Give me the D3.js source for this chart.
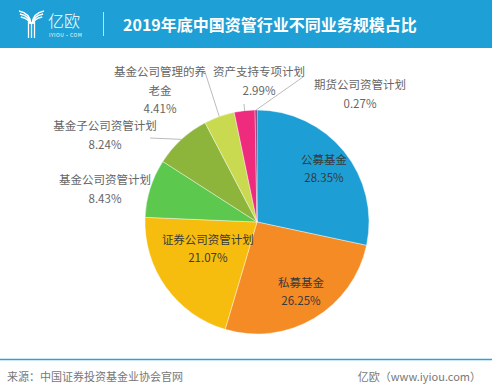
<!DOCTYPE html>
<html>
<head>
<meta charset="utf-8">
<script src="https://cdn.jsdelivr.net/npm/d3@7"></script>
<style>
  body { margin: 0; background: #fff; }
  svg text { font-family: "Noto Sans CJK SC", "Noto Sans", sans-serif; }
</style>
</head>
<body>
<svg id="chart"></svg>
<script>
// data
const categories = ['公募基金', '私募基金', '证券公司资管计划', '基金公司资管计划',
  '基金子公司资管计划', '基金公司管理的养老金', '资产支持专项计划', '期货公司资管计划'];
const shares = [28.35, 26.25, 21.07, 8.43, 8.24, 4.41, 2.99, 0.27];
const colors = ['#1d9fd6', '#f58b24', '#f6bd0f', '#5cc84d', '#8db53b', '#c9da50', '#ee2b7c', '#6e2a6c'];
const titleText = '2019年底中国资管行业不同业务规模占比';
const sourceText = '来源：中国证券投资基金业协会官网';
const creditText = '亿欧（www.iyiou.com）';

const width = 500, height = 392;
const cx = 257, cy = 222, radius = 112;

const svg = d3.select('#chart').attr('width', width).attr('height', height);

// header bar
svg.append('rect').attr('x', 0).attr('y', 0).attr('width', 492).attr('height', 48).attr('fill', '#1e9fd5');

// logo mark (stylised Y)
const logo = svg.append('g').attr('fill', 'none').attr('stroke', '#fff').attr('stroke-width', 1.3);
[0, 3, 6].forEach(o => {
  logo.append('path').attr('d', `M${19 + o * 0.3},${11 + o} Q${30},${13 + o} ${31 - o * 0.3},${24}`);
  logo.append('path').attr('d', `M${44 - o * 0.3},${11 + o} Q${33},${13 + o} ${32 + o * 0.3},${24}`);
});
[-3, 0, 3].forEach(o => {
  logo.append('line').attr('x1', 31.5 + o).attr('x2', 31.5 + o).attr('y1', 22).attr('y2', 38);
});
svg.append('text').attr('x', 48).attr('y', 27).attr('fill', '#fff')
  .style('font-size', '16px').style('font-weight', 300).text('亿欧');
svg.append('text').attr('x', 49).attr('y', 37).attr('fill', '#fff')
  .style('font-size', '5px').style('letter-spacing', '0.5px').text('IYIOU·COM');
svg.append('line').attr('x1', 103.5).attr('x2', 103.5).attr('y1', 12).attr('y2', 36)
  .attr('stroke', '#fff').attr('stroke-opacity', 0.7);

svg.append('text').attr('x', 123).attr('y', 31).attr('fill', '#fff')
  .style('font-size', '16px').style('font-weight', 700).text(titleText);

// pie
const pie = d3.pie().sort(null).value(d => d)
  .startAngle(0).endAngle(2 * Math.PI);
const arcs = pie(shares);
const arc = d3.arc().innerRadius(0).outerRadius(radius);

const g = svg.append('g').attr('transform', `translate(${cx},${cy})`);
g.selectAll('path.slice')
  .data(arcs)
  .join('path')
  .attr('class', 'slice')
  .attr('d', arc)
  .attr('fill', (d, i) => colors[i])
  .attr('stroke', '#fff')
  .attr('stroke-width', 0.4);

const fmt = v => v.toFixed(2) + '%';
const midA = d => (d.startAngle + d.endAngle) / 2;
const pt = (a, r) => [r * Math.sin(a), -r * Math.cos(a)];

// inside labels (first three slices): radial factor and nudge
const inside = [
  {r: 0.7, dx: 6, dy: -4},
  {r: 0.7, dx: 4, dy: 3},
  {r: 0.55, dx: 1, dy: -9}
];
inside.forEach((o, i) => {
  const [x, y] = pt(midA(arcs[i]), radius * o.r);
  const t = g.append('text').attr('text-anchor', 'middle').attr('fill', '#3a3a3a')
    .style('font-size', '11.5px');
  t.append('tspan').attr('x', x + o.dx).attr('y', y + o.dy - 5).text(categories[i]);
  t.append('tspan').attr('x', x + o.dx).attr('y', y + o.dy + 13).text(fmt(shares[i]));
});

// outside labels: leader end relative to centre and text block centre
const outside = [
  {i: 3, end: null, tx: -152, ty: -42, lines: ['基金公司资管计划']},
  {i: 4, end: [-107, -84], tx: -152, ty: -96, lines: ['基金子公司资管计划']},
  {i: 5, end: [-52, -150], tx: -97, ty: -150, lines: ['基金公司管理的养', '老金']},
  {i: 6, end: [-13, -118], tx: 2, ty: -150, lines: ['资产支持专项计划']},
  {i: 7, end: [46, -145], tx: 103, ty: -137, lines: ['期货公司资管计划']}
];
outside.forEach(o => {
  const d = arcs[o.i];
  if (o.end) {
    const [x0, y0] = pt(midA(d), radius);
    g.append('line').attr('x1', x0).attr('y1', y0).attr('x2', o.end[0]).attr('y2', o.end[1])
      .attr('stroke', '#aaa').attr('stroke-width', 0.8);
  }
  const t = g.append('text').attr('text-anchor', 'middle').attr('fill', '#666')
    .style('font-size', '11.5px');
  const allLines = o.lines.concat([fmt(shares[o.i])]);
  allLines.forEach((s, k) => {
    t.append('tspan').attr('x', o.tx).attr('y', o.ty + 4 + k * 18.5).text(s);
  });
});

// footer
svg.append('line').attr('x1', 0).attr('x2', 492).attr('y1', 359.5).attr('y2', 359.5)
  .attr('stroke', '#2aa4d8').attr('stroke-width', 1.5);
svg.append('text').attr('x', 7).attr('y', 381).attr('fill', '#777')
  .style('font-size', '11px').text(sourceText);
svg.append('text').attr('x', 481).attr('y', 381).attr('text-anchor', 'end').attr('fill', '#777')
  .style('font-size', '11px').text(creditText);
</script>
</body>
</html>
